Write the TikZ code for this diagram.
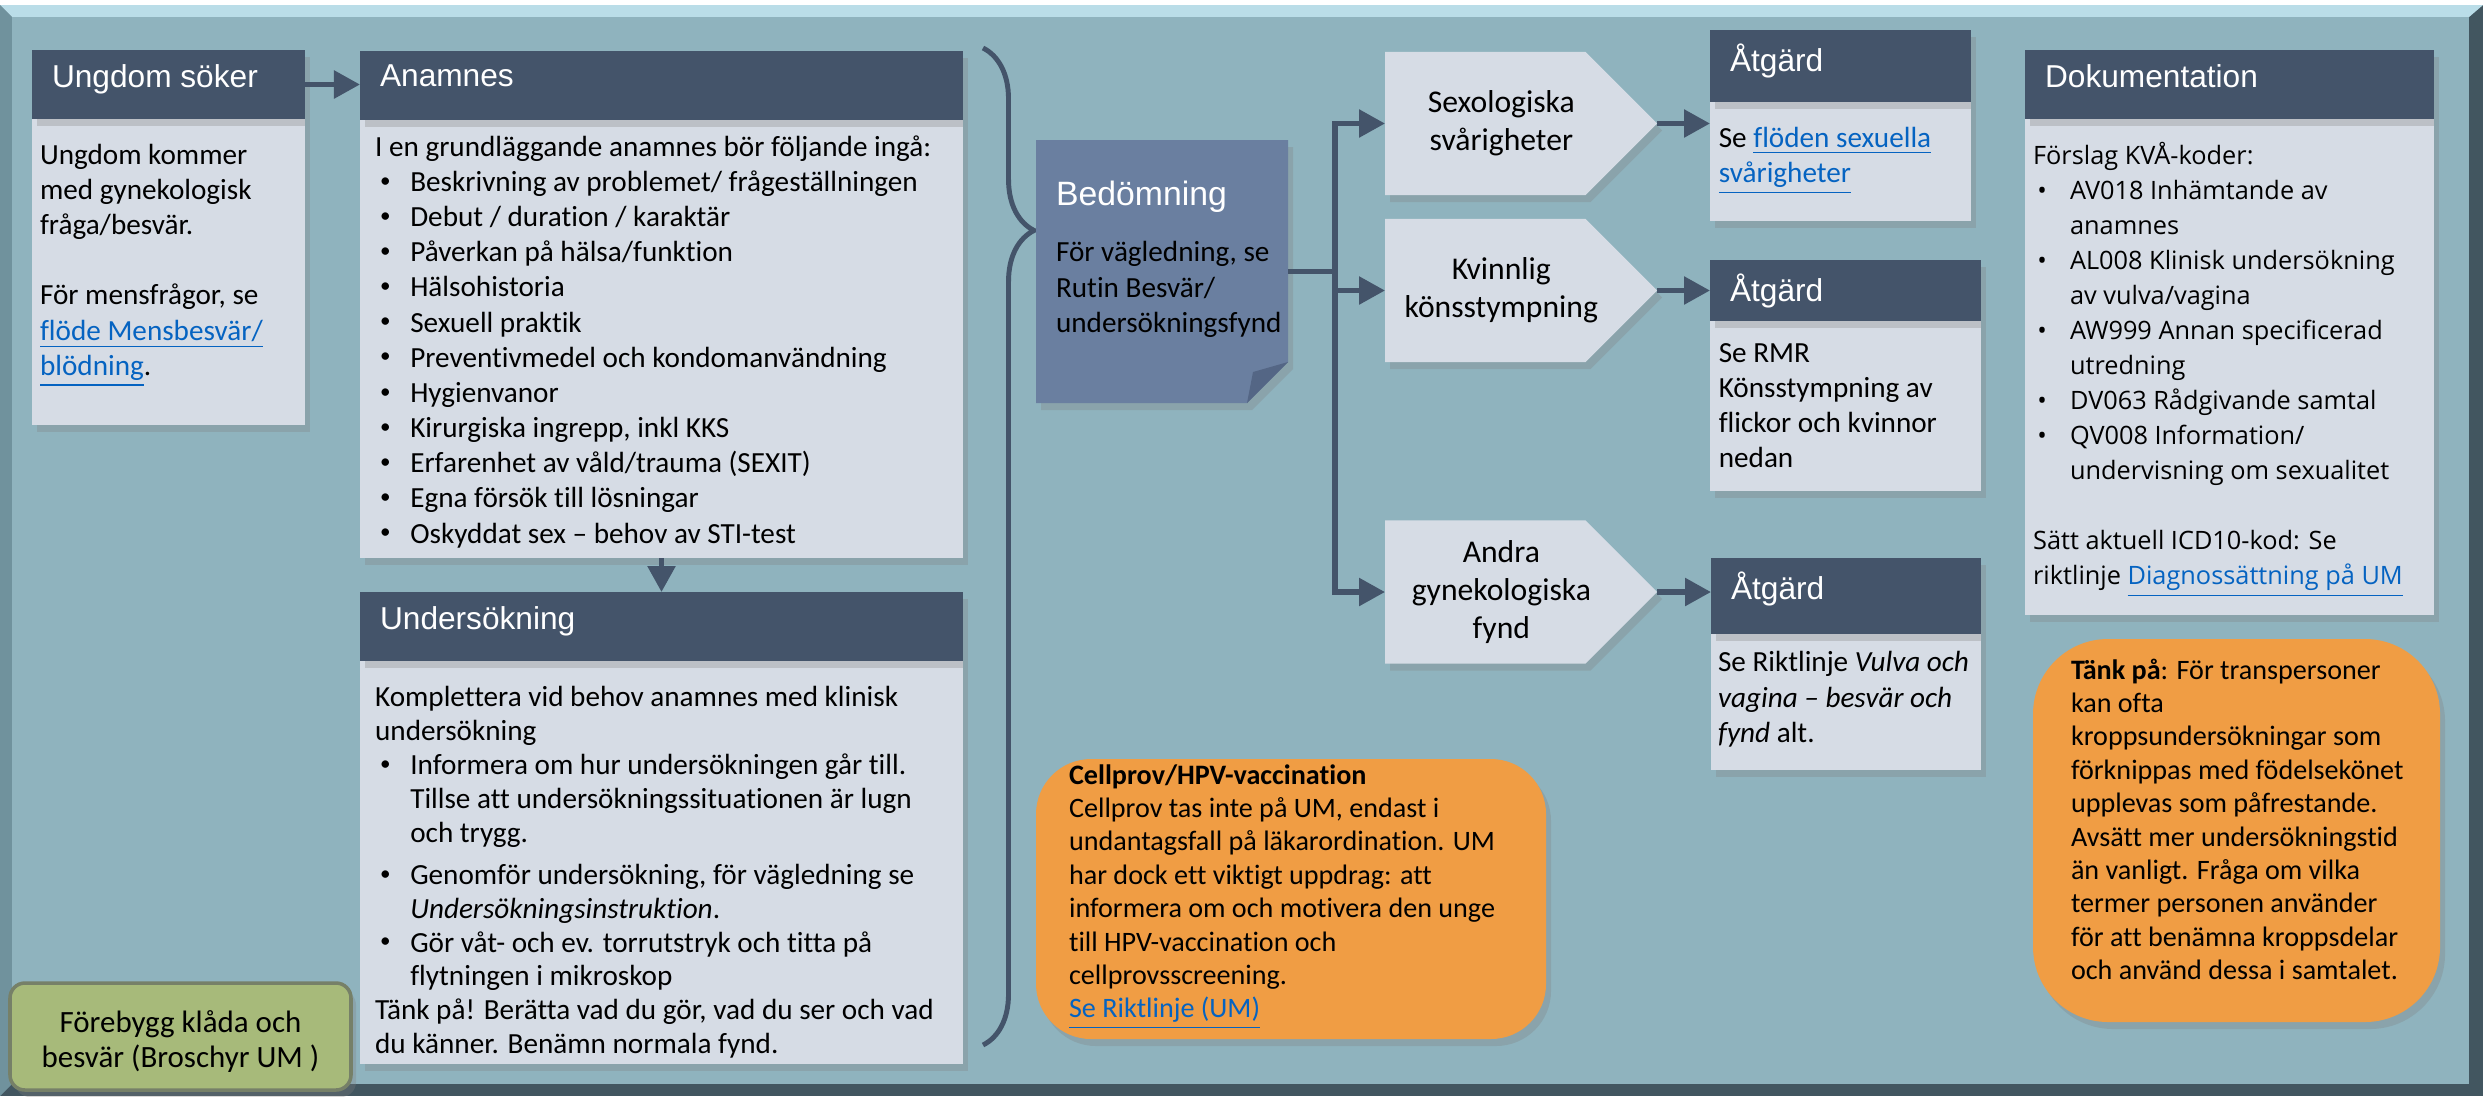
\documentclass[tikz,border=0pt]{standalone}
\usepackage{fontspec}
\setmainfont{Carlito}[Ligatures=NoCommon]
\newfontfamily\headfont{Liberation Sans}
\newfontfamily\docfont{Open Sans}[Ligatures=NoCommon]
\usetikzlibrary{arrows.meta,positioning,calc,fit,shapes.symbols,shadows,decorations.pathreplacing}
\definecolor{panelbg}{RGB}{143,179,190}
\definecolor{paneltop}{RGB}{186,221,232}
\definecolor{panelleft}{RGB}{112,146,157}
\definecolor{paneldark}{RGB}{66,86,96}
\definecolor{hdrblue}{RGB}{68,84,106}
\definecolor{bodygrey}{RGB}{214,220,229}
\definecolor{bedblue}{RGB}{106,127,160}
\definecolor{bedfold}{RGB}{84,102,133}
\definecolor{orangebox}{RGB}{240,157,68}
\definecolor{greenbox}{RGB}{167,186,122}
\definecolor{greenedge}{RGB}{118,128,104}
\definecolor{linkblue}{RGB}{5,99,193}
\newcommand\bodyfont{\fontsize{8.3}{10}\selectfont}
\newcommand\hdfont{\headfont\fontsize{9}{11}\selectfont}
\newcommand\lnk[1]{\textcolor{linkblue}{\underline{#1}}}
\newcommand\bl{\makebox[10pt][l]{\hspace{1.4pt}\raisebox{0.3ex}{\fontsize{6}{6}\selectfont\textbullet}}}
\newcommand\dbl{\makebox[10.5pt][l]{\hspace{1.2pt}\textbullet}}
\newcommand\ct{\hspace*{10pt}}

\begin{document}
\begin{tikzpicture}[x=0.01cm, y=-0.01cm, every node/.style={inner sep=0pt, outer sep=0pt},
  boxshadow/.style={drop shadow={shadow xshift=0.5mm, shadow yshift=-0.7mm, opacity=0.3}},
  hdr/.style={fill=hdrblue, boxshadow},
  bdy/.style={fill=bodygrey, boxshadow},
  htxt/.style={anchor=north west, inner xsep=5.7pt, inner ysep=4pt, text=white, font=\hdfont, align=left},
  btxt/.style={anchor=north west, inner xsep=4.3pt, inner ysep=4.4pt, font=\bodyfont, align=left},
  chev/.style={shape=signal, signal to=east, signal pointer angle=90, fill=bodygrey, boxshadow, anchor=west,
    minimum width=2.72cm, minimum height=1.43cm},
  ctxt/.style={font=\fontsize{9}{10.7}\selectfont, align=center, xshift=1.6mm},
  notebox/.style={fill=orangebox, boxshadow},
  conn/.style={draw=hdrblue, line width=1.6pt},
  arr/.style={conn, -{Triangle[length=2.6mm, width=2.7mm]}}]
\useasboundingbox (0,0) rectangle (2483,1096);
\fill[white] (0,0) rectangle (2483,1096);
\fill[paneldark] (0,5) rectangle (2483,1096);
\fill[paneltop] (0,5) -- (2483,5) -- (2469,17) -- (12,17) -- cycle;
\fill[panelleft] (0,5) -- (12,17) -- (12,1084) -- (0,1096) -- cycle;
\fill[panelbg] (12,17) rectangle (2469,1084);

\node[bdy, fit={(32,119) (305,425)}, label={[btxt, inner xsep=2.3pt, inner ysep=7.1pt]north west:{Ungdom kommer\\med gynekologisk\\fråga/besvär.\\[10pt]För mensfrågor, se\\\lnk{flöde Mensbesvär/}\\\lnk{blödning}.}}] (ungB) {};
\node[hdr, fit={(32,50) (305,119)}, label={[htxt]north west:Ungdom söker}] (ungH) {};

\node[bdy, fit={(360,120) (963,558)}, label={[btxt]north west:{I en grundläggande anamnes bör följande ingå:\\
\bl Beskrivning av problemet/ frågeställningen\\
\bl Debut / duration / karaktär\\
\bl Påverkan på hälsa/funktion\\
\bl Hälsohistoria\\
\bl Sexuell praktik\\
\bl Preventivmedel och kondomanvändning\\
\bl Hygienvanor\\
\bl Kirurgiska ingrepp, inkl KKS\\
\bl Erfarenhet av våld/trauma (SEXIT)\\
\bl Egna försök till lösningar\\
\bl Oskyddat sex – behov av STI-test}}] (anaB) {};
\node[hdr, fit={(360,51) (963,120)}, label={[htxt]north west:Anamnes}] (anaH) {};

\node[bdy, fit={(360,661) (963,1064)}, label={[btxt, inner ysep=7.3pt, font=\fontsize{8.3}{9.6}\selectfont]north west:{Komplettera vid behov anamnes med klinisk\\undersökning\\
\bl Informera om hur undersökningen går till.\\\ct Tillse att undersökningssituationen är lugn\\\ct och trygg.\\[2.5pt]
\bl Genomför undersökning, för vägledning se\\\ct\textit{Undersökningsinstruktion}.\\
\bl Gör våt- och ev. torrutstryk och titta på\\\ct flytningen i mikroskop\\
Tänk på! Berätta vad du gör, vad du ser och vad\\du känner. Benämn normala fynd.}}] (undB) {};
\node[hdr, fit={(360,592) (963,661)}, label={[htxt]north west:Undersökning}] (undH) {};

\node[fill=greenbox, draw=greenedge, line width=1pt, rounded corners=0.15cm, boxshadow, fit={(10,983) (351,1090)},
  label={[font=\fontsize{8.8}{10}\selectfont, align=center, yshift=-0.5mm]center:{Förebygg klåda och\\besvär (Broschyr UM )}}] (prev) {};

\draw[hdrblue, line width=1.4pt, decorate, decoration={brace, amplitude=0.51cm, aspect=0.183}] (983,48) -- (983,1045);

\fill[bedblue, boxshadow] (1036,140) -- (1288,140) -- (1288,362) -- (1247,403) -- (1036,403) -- cycle;
\fill[bedfold] (1288,362) -- (1253,372) -- (1247,403) -- cycle;
\node[fit={(1036,140) (1288,403)}, label={[btxt, inner xsep=5.7pt, inner ysep=11.7pt]north west:{{\headfont\fontsize{9.6}{12}\selectfont\color{white}Bedömning}\\[6pt]För vägledning, se\\Rutin Besvär/\\undersökningsfynd}}] (bed) {};

\node[chev, label={[ctxt]center:{Sexologiska\\svårigheter}}] (sex) at (1385,123.5) {};
\node[chev, label={[ctxt]center:{Kvinnlig\\könsstympning}}] (kvinn) at (1385,290.5) {};
\node[chev, label={[ctxt]center:{Andra\\gynekologiska\\fynd}}] (andra) at (1385,592) {};

\coordinate (split) at (1335,271.5);
\draw[conn] (bed.east) -- (split);
\draw[arr] (split) |- (sex.west);
\draw[arr] (split) |- (kvinn.west);
\draw[arr] (split) |- (andra.west);

\node[bdy, fit={(1710,102) (1971,221)}, label={[btxt, inner xsep=2.5pt, inner ysep=7.1pt]north west:{Se \lnk{flöden sexuella}\\\lnk{svårigheter}}}] (atg1B) {};
\node[hdr, fit={(1710,30) (1971,102)}, label={[htxt]north west:Åtgärd}] (atg1H) {};
\node[bdy, fit={(1710,321) (1981,491)}, label={[btxt, inner xsep=2.5pt, inner ysep=6.4pt]north west:{Se RMR\\Könsstympning av\\flickor och kvinnor\\nedan}}] (atg2B) {};
\node[hdr, fit={(1710,260) (1981,321)}, label={[htxt]north west:Åtgärd}] (atg2H) {};
\node[bdy, fit={(1711,634) (1981,770)}, label={[btxt, inner xsep=2pt, inner ysep=5pt]north west:{Se Riktlinje \textit{Vulva och}\\\textit{vagina – besvär och}\\\textit{fynd} alt.}}] (atg3B) {};
\node[hdr, fit={(1711,558) (1981,634)}, label={[htxt]north west:Åtgärd}] (atg3H) {};

\draw[arr] (ungH.east) -- (ungH.east -| anaH.west);
\draw[arr] (anaB.south) -- (undH.north);
\draw[arr] (sex.east) -- (sex.east -| atg1B.west);
\draw[arr] (kvinn.east) -- (kvinn.east -| atg2H.west);
\draw[arr] (andra.east) -- (andra.east -| atg3H.west);

\node[bdy, fit={(2025,119) (2434,615)}, label={[btxt, font=\docfont\fontsize{7.2}{9.96}\selectfont, inner xsep=2.3pt, inner ysep=6.6pt]north west:{Förslag KVÅ-koder:\\
\dbl AV018 Inhämtande av\\\ct\hspace*{0.5pt}anamnes\\
\dbl AL008 Klinisk undersökning\\\ct\hspace*{0.5pt}av vulva/vagina\\
\dbl AW999 Annan specificerad\\\ct\hspace*{0.5pt}utredning\\
\dbl DV063 Rådgivande samtal\\
\dbl QV008 Information/\\\ct\hspace*{0.5pt}undervisning om sexualitet\\[9.96pt]
Sätt aktuell ICD10-kod: Se\\
riktlinje \lnk{Diagnossättning på UM}}}] (dokB) {};
\node[hdr, fit={(2025,50) (2434,119)}, label={[htxt]north west:Dokumentation}] (dokH) {};

\node[notebox, rounded corners=0.55cm, fit={(1036,759) (1546,1039)}, label={[btxt, font=\fontsize{8}{9.5}\selectfont, inner xsep=9.4pt, inner ysep=1.5pt]north west:{\textbf{Cellprov/HPV-vaccination}\\
Cellprov tas inte på UM, endast i\\
undantagsfall på läkarordination. UM\\
har dock ett viktigt uppdrag: att\\
informera om och motivera den unge\\
till HPV-vaccination och\\
cellprovsscreening.\\
\lnk{Se Riktlinje (UM)}}}] (cell) {};

\node[notebox, rounded corners=0.75cm, fit={(2033,639) (2440,1022)}, label={[btxt, font=\fontsize{8}{9.5}\selectfont, inner xsep=10.8pt, inner ysep=5.6pt]north west:{\textbf{Tänk på}: För transpersoner\\
kan ofta\\
kroppsundersökningar som\\
förknippas med födelsekönet\\
upplevas som påfrestande.\\
Avsätt mer undersökningstid\\
än vanligt. Fråga om vilka\\
termer personen använder\\
för att benämna kroppsdelar\\
och använd dessa i samtalet.}}] (tank) {};
\end{tikzpicture}
\end{document}
